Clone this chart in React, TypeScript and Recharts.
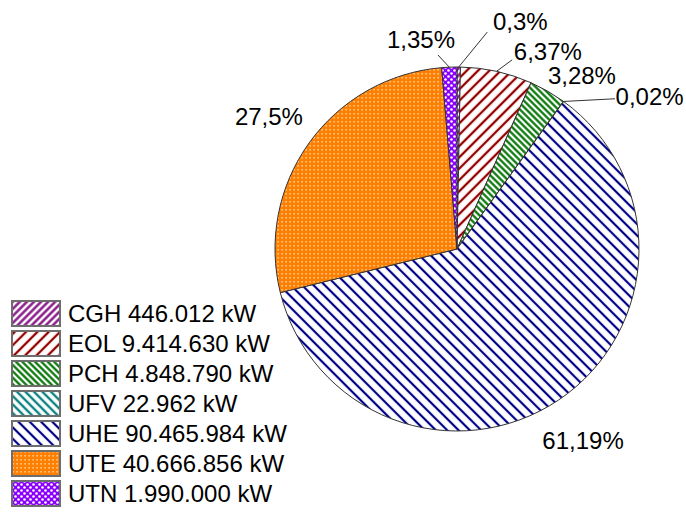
import { PieChart, Pie, Cell, Legend } from "recharts"

// Potência instalada por tipo de usina (kW)
const tipos = ["CGH", "EOL", "PCH", "UFV", "UHE", "UTE", "UTN"]
const potencias = [446012, 9414630, 4848790, 22962, 90465984, 40666856, 1990000]

const data = tipos.map((name, i) => ({ name, value: potencias[i] }))

// posição dos rótulos: distância além do raio e desvio do ângulo médio (graus)
const labelDist = [54, 35, 32, 64, 47, 48, 31]
const labelShift = [-15, -12.2, -5.8, -15.7, -0.6, 0.5, 7.3]
// linhas de chamada (null = sem linha)
const lineDist = [37, 15, null, 36, null, null, 13]
const lineShift = [-7.4, -3.7, 0, -10.6, 0, 0, 3.2]

const FONT = "'Liberation Sans', Arial, sans-serif"
const RADIAN = Math.PI / 180

const polar = (cx: number, cy: number, r: number, angle: number) => ({
  x: cx + Math.cos(-angle * RADIAN) * r,
  y: cy + Math.sin(-angle * RADIAN) * r,
})

const fmtPct = (p: number) => parseFloat((p * 100).toFixed(2)).toString().replace(".", ",") + "%"
const fmtKw = (v: number) => v.toString().replace(/\B(?=(\d{3})+(?!\d))/g, ".") + " kW"

function Hatch({ id, color, gap, angle, width }: { id: string; color: string; gap: number; angle: number; width: number }) {
  return (
    <pattern id={id} width={gap} height={gap} patternUnits="userSpaceOnUse" patternTransform={`rotate(${angle})`}>
      <rect width={gap} height={gap} fill="#fff" />
      <line x1={gap / 2} y1={0} x2={gap / 2} y2={gap} stroke={color} strokeWidth={width} />
    </pattern>
  )
}

function Padroes() {
  return (
    <defs>
      <Hatch id="p-CGH" color="#861186" gap={5} angle={45} width={2.4} />
      <Hatch id="p-EOL" color="#950000" gap={8} angle={45} width={2.3} />
      <Hatch id="p-PCH" color="#007300" gap={4.5} angle={-45} width={2.2} />
      <Hatch id="p-UFV" color="#0f8383" gap={6} angle={-45} width={2.4} />
      <Hatch id="p-UHE" color="#000088" gap={8} angle={-45} width={2.2} />
      <pattern id="p-UTE" width={4} height={4} patternUnits="userSpaceOnUse">
        <rect width={4} height={4} fill="#ff8000" />
        <rect x={1.5} y={1} width={1.2} height={1.6} fill="#fff" opacity={0.75} />
      </pattern>
      <pattern id="p-UTN" width={6} height={6} patternUnits="userSpaceOnUse">
        <rect width={6} height={6} fill="#8a00ff" />
        <circle cx={1.5} cy={1.5} r={1.3} fill="#fff" />
        <circle cx={4.5} cy={4.5} r={1.3} fill="#fff" />
      </pattern>
    </defs>
  )
}

function renderLabel(props: any) {
  const { cx, cy, midAngle, outerRadius, percent, index } = props
  const p = polar(cx, cy, outerRadius + labelDist[index], midAngle + labelShift[index])
  const ld = lineDist[index]
  let line = null
  if (ld !== null) {
    const a = polar(cx, cy, outerRadius, midAngle)
    const b = polar(cx, cy, outerRadius + ld, midAngle + lineShift[index])
    line = <line x1={a.x} y1={a.y} x2={b.x} y2={b.y} stroke="#333" strokeWidth={1} />
  }
  return (
    <g key={`lbl-${index}`}>
      {line}
      <text x={p.x} y={p.y} textAnchor="middle" dominantBaseline="central" fill="#000" fontSize={24} fontFamily={FONT}>
        {fmtPct(percent)}
      </text>
    </g>
  )
}

function LegendaUsinas() {
  return (
    <div style={{ fontFamily: FONT, fontSize: 24, color: "#000" }}>
      {tipos.map((t, i) => (
        <div key={t} style={{ display: "flex", alignItems: "center", height: 30, lineHeight: "27px" }}>
          <svg width={50} height={27} style={{ display: "block" }}>
            <rect x={1} y={1} width={48} height={25} fill={`url(#p-${t})`} stroke="#6e6e6e" strokeWidth={2} />
          </svg>
          <span style={{ marginLeft: 7, whiteSpace: "nowrap" }}>{`${t} ${fmtKw(potencias[i])}`}</span>
        </div>
      ))}
    </div>
  )
}

export default function App() {
  return (
    <div style={{ position: "absolute", left: 0, top: 0, width: 686, height: 512, background: "#fff" }}>
      <PieChart width={686} height={512} margin={{ top: 0, right: 0, bottom: 0, left: 0 }}>
        <Padroes />
        <Pie
          data={data}
          dataKey="value"
          nameKey="name"
          cx={457}
          cy={249}
          outerRadius={182}
          startAngle={90}
          endAngle={-270}
          stroke="#333"
          strokeWidth={1}
          label={renderLabel}
          labelLine={false}
          isAnimationActive={false}
        >
          {data.map((d) => (
            <Cell key={d.name} fill={`url(#p-${d.name})`} />
          ))}
        </Pie>
        <Legend
          layout="vertical"
          align="center"
          verticalAlign="middle"
          wrapperStyle={{ left: 11, top: 298, width: "auto" }}
          content={() => <LegendaUsinas />}
        />
      </PieChart>
    </div>
  )
}
